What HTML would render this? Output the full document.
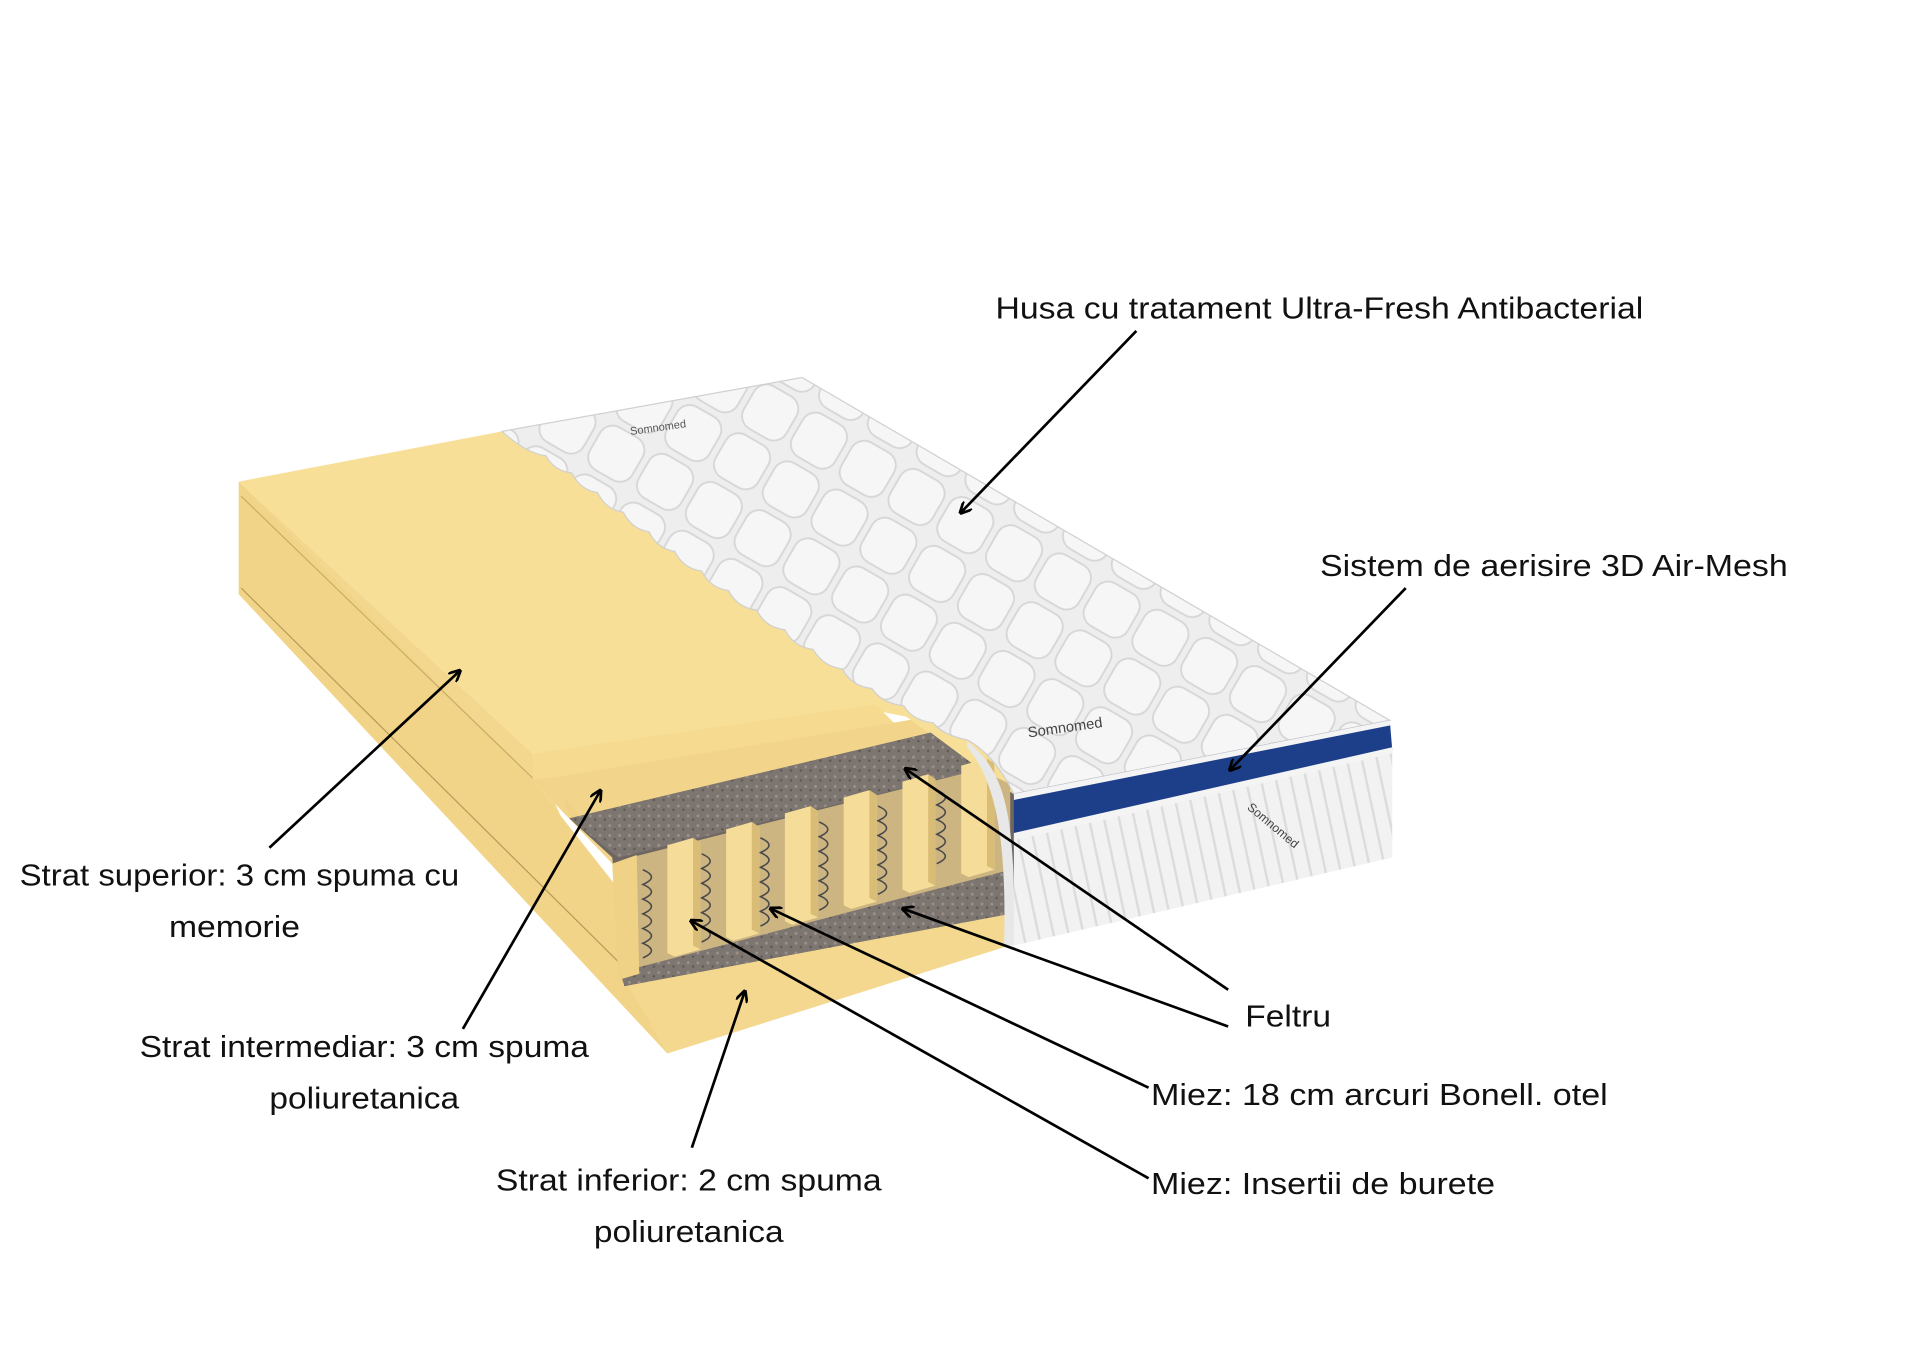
<!DOCTYPE html>
<html><head><meta charset="utf-8"><style>
html,body{margin:0;padding:0;background:#fff;width:1920px;height:1355px;overflow:hidden}
svg{display:block}
text{font-family:"Liberation Sans",sans-serif;font-size:25px;fill:#111}
</style></head><body>
<svg width="1920" height="1355" viewBox="0 0 1568 1106" xmlns="http://www.w3.org/2000/svg">
<defs>
<marker id="ah" markerWidth="10" markerHeight="10" refX="8" refY="5" orient="auto" markerUnits="userSpaceOnUse">
<path d="M0,0 L10,5 L0,10" fill="none" stroke="#000" stroke-width="2.2"/>
</marker>
<pattern id="quilt" width="46" height="46" patternUnits="userSpaceOnUse" patternTransform="rotate(30)">
<rect width="46" height="46" fill="#eeeeee"/>
<rect x="3" y="3" width="40" height="40" rx="12" fill="#f6f6f6" stroke="#d6d6d6" stroke-width="1.5"/>
</pattern>
<pattern id="stripes" width="12" height="12" patternUnits="userSpaceOnUse" patternTransform="rotate(-12)">
<rect width="12" height="12" fill="#f2f2f2"/><rect x="10" width="2" height="12" fill="#dcdcdc"/>
</pattern>
<pattern id="felt" width="8" height="8" patternUnits="userSpaceOnUse">
<rect width="8" height="8" fill="#7d7570"/><circle cx="2" cy="2" r="1.2" fill="#9a918a"/><circle cx="6" cy="5" r="1" fill="#5f5852"/>
</pattern>
</defs>

<polygon points="195,393 435,615 545,860 195,485" fill="#f3d78f"/>
<polygon points="195,393 195,485 545,860 548,780 435,637" fill="#f1d488"/>
<line x1="197" y1="480" x2="520" y2="800" stroke="#b89d5a" stroke-width="1"/>
<line x1="197" y1="405" x2="440" y2="640" stroke="#c9ad66" stroke-width="1"/>
<polygon points="435,637 760,585 830,650 830,770 545,860 500,705" fill="#f2d58b"/>
<polygon points="505,790 830,705 830,770 545,860" fill="#f4d890"/>
<polygon points="195,393 410,352 655,308 828,648 740,585 715,580 435,615" fill="#f8df98"/>
<polygon points="435,615 715,575 730,590 435,637" fill="#f5da90"/>
<polygon points="435,637 730,590 760,600 465,668 460,650" fill="#f2d58b"/>
<polygon points="460,650 465,668 500,700 520,700 505,705" fill="#f0d286"/>
<polygon points="465,668 760,598 830,650 830,745 510,805 500,700" fill="#6e6660"/>
<polygon points="465,668 760,598 800,628 505,700" fill="url(#felt)"/>
<polygon points="505,790 830,705 830,745 510,805" fill="url(#felt)"/>
<polygon points="515,700 800,628 825,640 825,710 520,790" fill="#cdb581"/>
<g stroke="#4a4a4a" stroke-width="1.3" fill="none">
<path d="M525,710 q14,6 0,12 q14,6 0,12 q14,6 0,12 q14,6 0,12 q14,6 0,12 q14,6 0,12"/>
<path d="M573,697 q14,6 0,12 q14,6 0,12 q14,6 0,12 q14,6 0,12 q14,6 0,12 q14,6 0,12"/>
<path d="M621,684 q14,6 0,12 q14,6 0,12 q14,6 0,12 q14,6 0,12 q14,6 0,12 q14,6 0,12"/>
<path d="M669,671 q14,6 0,12 q14,6 0,12 q14,6 0,12 q14,6 0,12 q14,6 0,12 q14,6 0,12"/>
<path d="M717,658 q14,6 0,12 q14,6 0,12 q14,6 0,12 q14,6 0,12 q14,6 0,12 q14,6 0,12"/>
<path d="M765,645 q14,6 0,12 q14,6 0,12 q14,6 0,12 q14,6 0,12 q14,6 0,12"/>
</g>
<polygon points="500,705 520,698 522,795 505,800" fill="#f0d286"/>
<g>
<polygon points="545,690 566,684 572,688 572,775 551,781 545,778" fill="#f5dc98"/>
<polygon points="566,684 572,688 572,775 566,772" fill="#d9bd76"/>
<polygon points="593,677 614,671 620,675 620,762 599,768 593,765" fill="#f5dc98"/>
<polygon points="614,671 620,675 620,762 614,759" fill="#d9bd76"/>
<polygon points="641,664 662,658 668,662 668,749 647,755 641,752" fill="#f5dc98"/>
<polygon points="662,658 668,662 668,749 662,746" fill="#d9bd76"/>
<polygon points="689,651 710,645 716,649 716,736 695,742 689,739" fill="#f5dc98"/>
<polygon points="710,645 716,649 716,736 710,733" fill="#d9bd76"/>
<polygon points="737,638 758,632 764,636 764,723 743,729 737,726" fill="#f5dc98"/>
<polygon points="758,632 764,636 764,723 758,720" fill="#d9bd76"/>
<polygon points="785,625 806,619 812,623 812,710 791,716 785,713" fill="#f5dc98"/>
<polygon points="806,619 812,623 812,710 806,707" fill="#d9bd76"/>
</g>
<path d="M410,352 L655,308 L1135,588 L828,648 C818,628 805,612 790,604
 Q770,600 762,590 Q745,588 738,576 Q720,574 712,562 Q695,560 688,546 Q672,544 664,530 Q648,528 641,514 Q625,512 618,498 Q602,496 595,482 Q580,480 573,466 Q558,464 551,450 Q537,448 530,434 Q516,432 509,418 Q495,416 488,402 Q474,400 467,386 Q452,384 446,372 Q430,370 410,352 Z" fill="url(#quilt)" stroke="#d0d0d0" stroke-width="1"/>
<polygon points="828,680 1137,610 1137,700 828,772" fill="url(#stripes)"/>
<polygon points="828,648 1135,588 1137,612 828,682" fill="#1d3f8a"/>
<polygon points="828,648 1135,588 1136,592 828,653" fill="#f4f4f4"/>
<polygon points="828,680 1137,610 1137,615 828,686" fill="#f4f4f4"/>
<path d="M790,605 C820,630 830,660 828,772 L820,772 C822,690 815,640 790,610 Z" fill="#e8e8e8"/>
<text x="840" y="602" style="font-size:12px;fill:#444" transform="rotate(-8 840 602)">Somnomed</text>
<text x="1018" y="660" style="font-size:10px;fill:#444" transform="rotate(40 1018 660)">Somnomed</text>
<text x="515" y="355" style="font-size:9px;fill:#555" transform="rotate(-8 515 355)">Somnomed</text>

<g stroke="#000" stroke-width="2.2" fill="none" marker-end="url(#ah)">
<line x1="928" y1="270" x2="785" y2="418"/>
<line x1="1148" y1="480" x2="1005" y2="628"/>
<line x1="220" y1="692" x2="375" y2="548"/>
<line x1="378" y1="840" x2="490" y2="646"/>
<line x1="565" y1="937" x2="608" y2="810"/>
<line x1="1003" y1="808" x2="740" y2="628"/>
<line x1="1003" y1="838" x2="738" y2="742"/>
<line x1="938" y1="888" x2="630" y2="742"/>
<line x1="938" y1="962" x2="565" y2="752"/>
</g>

<text x="813" y="260" textLength="529" lengthAdjust="spacingAndGlyphs">Husa cu tratament Ultra-Fresh Antibacterial</text>
<text x="1078" y="470" textLength="382" lengthAdjust="spacingAndGlyphs">Sistem de aerisire 3D Air-Mesh</text>
<text x="16" y="723" textLength="359" lengthAdjust="spacingAndGlyphs">Strat superior: 3 cm spuma cu</text>
<text x="138" y="765" textLength="107" lengthAdjust="spacingAndGlyphs">memorie</text>
<text x="114" y="863" textLength="367" lengthAdjust="spacingAndGlyphs">Strat intermediar: 3 cm spuma</text>
<text x="220" y="905" textLength="155" lengthAdjust="spacingAndGlyphs">poliuretanica</text>
<text x="1017" y="838" textLength="70" lengthAdjust="spacingAndGlyphs">Feltru</text>
<text x="940" y="902" textLength="373" lengthAdjust="spacingAndGlyphs">Miez: 18 cm arcuri Bonell. otel</text>
<text x="405" y="972" textLength="315" lengthAdjust="spacingAndGlyphs">Strat inferior: 2 cm spuma</text>
<text x="940" y="975" textLength="281" lengthAdjust="spacingAndGlyphs">Miez: Insertii de burete</text>
<text x="485" y="1014" textLength="155" lengthAdjust="spacingAndGlyphs">poliuretanica</text>
</svg>
</body></html>
